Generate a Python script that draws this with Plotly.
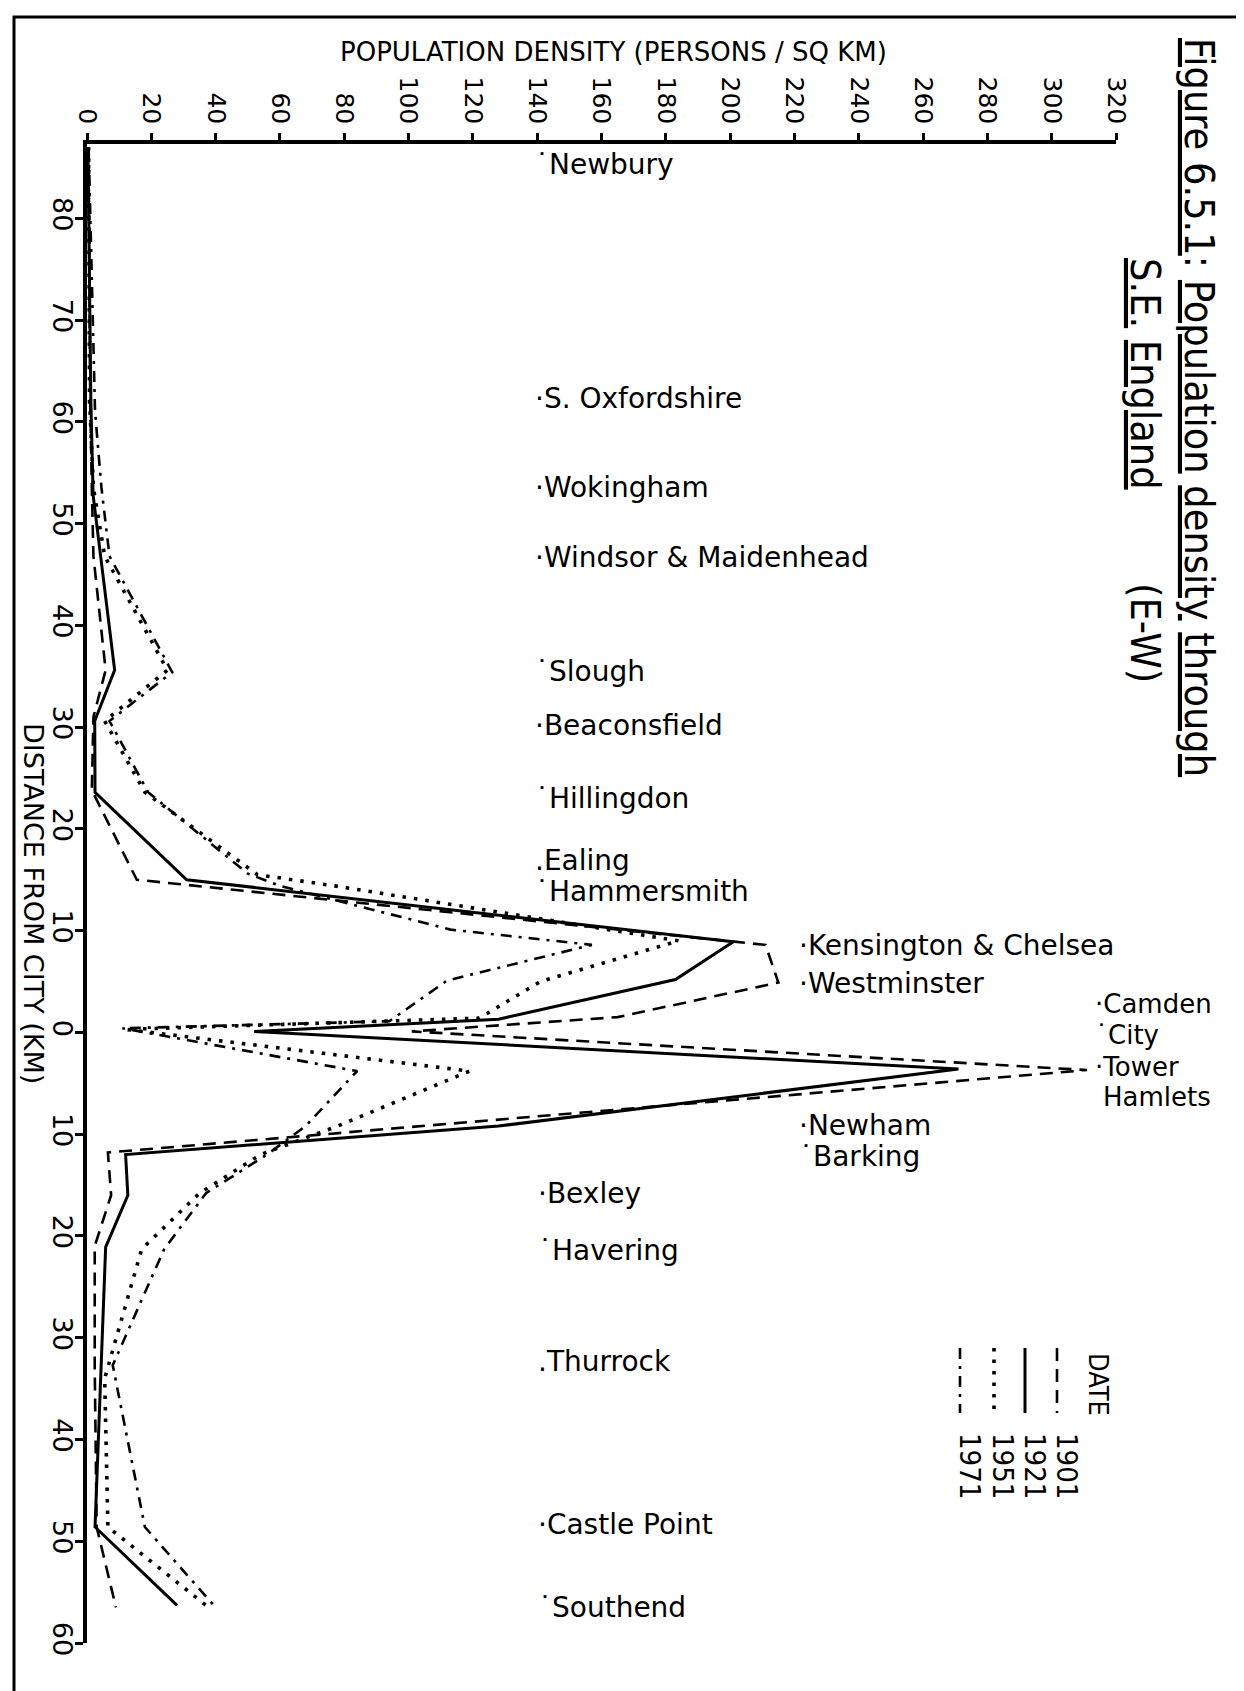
import plotly.graph_objects as go

# ---------------- data ----------------
# distance from City: west positive (top of chart), east negative (bottom)
dist_1901 = [87.0, 62.0, 53.5, 46.8, 35.6, 31.0, 23.8, 15.0, 8.6, 4.9, 1.5, 0.1,
             -3.7, -9.0, -11.8, -16.0, -21.0, -33.0, -48.6, -56.5]
dens_1901 = [0.5, 1.0, 1.5, 2.0, 5.8, 2.0, 1.5, 15.5, 211, 215, 165, 101,
             311, 112, 6.5, 7.5, 2.4, 2.4, 3.0, 9.0]

dist_1921 = [87.0, 62.0, 52.8, 35.6, 30.6, 23.6, 15.0, 8.9, 5.2, 1.3, 0.1,
             -3.6, -9.2, -12.0, -16.0, -21.1, -48.6, -56.3]
dens_1921 = [0.3, 1.2, 1.9, 8.6, 2.4, 2.5, 31, 201, 183, 128, 52,
             271, 128, 12, 12.7, 5.8, 2.5, 28]

dist_1951 = [87.0, 62.0, 53.5, 46.8, 35.6, 30.6, 23.6, 15.5, 14.4, 9.0, 5.0, 1.4, 0.3,
             -3.8, -9.2, -12.0, -15.8, -21.3, -34.0, -48.6, -56.3]
dens_1951 = [0.5, 0.8, 2.0, 5.5, 25, 5.5, 18, 53, 77, 184, 141, 122, 12,
             119, 78, 54, 35, 17, 5.5, 6.5, 37]

dist_1971 = [87.0, 61.0, 53.5, 46.8, 35.4, 30.6, 23.6, 15.6, 14.4, 10.1, 8.6, 5.1, 1.1, 0.4,
             -3.8, -9.2, -12.0, -15.8, -21.3, -32.7, -48.6, -56.5]
dens_1971 = [0.5, 2.5, 4.5, 7.0, 26.5, 7.0, 19, 50, 60, 113, 157, 112, 94, 11,
             84, 68, 56, 37, 24, 8, 18, 40]

place_names = ["Newbury", "S. Oxfordshire", "Wokingham", "Windsor & Maidenhead", "Slough",
               "Beaconsfield", "Hillingdon", "Ealing", "Hammersmith", "Kensington & Chelsea",
               "Westminster", "Camden", "City", "Tower Hamlets", "Newham", "Barking",
               "Bexley", "Havering", "Thurrock", "Castle Point", "Southend"]
place_marks = ["˙", "·", "·", "·", "˙", "·", "˙", ".", "˙", "·",
               "·", "·", "˙", "·", "·", "˙", "·", "˙", ".", "·", "˙"]
label_dist = [85.3, 62.3, 53.5, 46.7, 35.5, 30.2, 23.0, 16.9, 13.8, 8.5,
              4.8, 2.8, -0.3, -3.4, -9.1, -12.2, -15.8, -21.4, -32.3, -48.4, -56.5]
label_dens = [140, 140, 140, 140, 140, 140, 140, 140, 140, 222,
              222, 314, 314, 314, 222, 222, 141, 141, 141, 141, 141]

x_ticks = list(range(0, 321, 20))
y_ticks = [80, 70, 60, 50, 40, 30, 20, 10, 0, -10, -20, -30, -40, -50, -60]
y_ticktext = [str(abs(v)) for v in y_ticks]

years = ["1901", "1921", "1951", "1971"]

# ---------------- layout geometry ----------------
W, H = 1244, 1691
L, R, T, B = 79, 136, 136, 56
PW, PH = W - L - R, H - T - B


def px(xp):
    return (xp - L) / PW


def py(yp):
    return (H - B - yp) / PH


NARROW = "DejaVu Sans Condensed, Liberation Sans Narrow, Arial Narrow, sans-serif"
SANS = "DejaVu Sans, Verdana, sans-serif"

styles = {
    "1901": dict(color="black", width=2.6, dash="13px,8px"),
    "1921": dict(color="black", width=3.0, dash="solid"),
    "1951": dict(color="black", width=3.6, dash="3.5px,8px"),
    "1971": dict(color="black", width=2.6, dash="11px,7px,3px,7px"),
}

series = {
    "1901": (dens_1901, dist_1901),
    "1921": (dens_1921, dist_1921),
    "1951": (dens_1951, dist_1951),
    "1971": (dens_1971, dist_1971),
}

fig = go.Figure()
for yr in years:
    xs, ys = series[yr]
    fig.add_trace(go.Scatter(x=xs, y=ys, mode="lines", name=yr,
                             line=styles[yr], showlegend=False, hoverinfo="skip"))

annotations = []
LABEL_SIZE = 28
for name, mark, d, v in zip(place_names, place_marks, label_dist, label_dens):
    size = 26 if v > 300 else LABEL_SIZE
    if name == "Tower Hamlets":
        first, second = name.split(" ")
        annotations.append(dict(x=v, y=d, xref="x", yref="y", text=mark + first,
                                showarrow=False, xanchor="left", yanchor="middle",
                                xshift=-4, font=dict(family=SANS, size=size, color="black")))
        annotations.append(dict(x=v, y=d - 2.9, xref="x", yref="y", text=second,
                                showarrow=False, xanchor="left", yanchor="middle",
                                xshift=4, font=dict(family=SANS, size=size, color="black")))
        continue
    annotations.append(dict(x=v, y=d, xref="x", yref="y", text=mark + name,
                            showarrow=False, xanchor="left", yanchor="middle",
                            align="left", xshift=-4,
                            font=dict(family=SANS, size=size, color="black")))

# axis titles
annotations.append(dict(x=px(605), y=py(44), xref="paper", yref="paper",
                        text="POPULATION DENSITY (PERSONS / SQ KM)", showarrow=False,
                        xanchor="center", yanchor="middle",
                        font=dict(family=SANS, size=26, color="black")))
annotations.append(dict(x=px(26), y=py(895), xref="paper", yref="paper",
                        text="DISTANCE FROM CITY (KM)", showarrow=False, textangle=90,
                        xanchor="center", yanchor="middle",
                        font=dict(family=SANS, size=27, color="black")))
# title
annotations.append(dict(x=px(1191), y=py(399), xref="paper", yref="paper",
                        text="<u>Figure 6.5.1</u>: <u>Population</u> <u>density</u> <u>through</u>",
                        showarrow=False, textangle=90, xanchor="center", yanchor="middle",
                        font=dict(family=NARROW, size=41, color="black")))
annotations.append(dict(x=px(1137), y=py(366), xref="paper", yref="paper",
                        text="<u>S.E.</u> <u>England</u>", showarrow=False, textangle=90,
                        xanchor="center", yanchor="middle",
                        font=dict(family=NARROW, size=41, color="black")))
annotations.append(dict(x=px(1137), y=py(625), xref="paper", yref="paper",
                        text="(E-W)", showarrow=False, textangle=90,
                        xanchor="center", yanchor="middle",
                        font=dict(family=NARROW, size=41, color="black")))

# legend (drawn rotated like the original)
annotations.append(dict(x=px(1091), y=py(1376), xref="paper", yref="paper",
                        text="DATE", showarrow=False, textangle=90,
                        xanchor="center", yanchor="middle",
                        font=dict(family=NARROW, size=27, color="black")))
leg_line_x = [1049, 1017, 986, 952]
leg_text_x = [1059, 1027, 995, 962]
shapes = []
for yr, lx, tx in zip(years, leg_line_x, leg_text_x):
    st = dict(styles[yr])
    shapes.append(dict(type="line", xref="paper", yref="paper",
                       x0=px(lx), x1=px(lx), y0=py(1340), y1=py(1405), line=st))
    annotations.append(dict(x=px(tx), y=py(1458), xref="paper", yref="paper",
                            text=yr, showarrow=False, textangle=90,
                            xanchor="center", yanchor="middle",
                            font=dict(family=NARROW, size=29, color="black")))

# outer frame
shapes.append(dict(type="rect", xref="paper", yref="paper",
                   x0=px(6), x1=px(1238), y0=py(1685), y1=py(9),
                   line=dict(color="black", width=3), fillcolor="rgba(0,0,0,0)"))

fig.update_layout(
    width=W, height=H,
    margin=dict(l=L, r=R, t=T, b=B, pad=0),
    paper_bgcolor="white", plot_bgcolor="white",
    annotations=annotations, shapes=shapes,
    showlegend=False,
    xaxis=dict(side="top", range=[0, 320], tickmode="array", tickvals=x_ticks,
               tickangle=90, ticks="outside", ticklen=7, tickwidth=3, tickcolor="black",
               showline=True, linewidth=4, linecolor="black", showgrid=False,
               zeroline=False, tickfont=dict(family=SANS, size=25, color="black")),
    yaxis=dict(range=[-60, 87.3], tickmode="array", tickvals=y_ticks, ticktext=y_ticktext,
               tickangle=90, ticks="outside", ticklen=8, tickwidth=3, tickcolor="black",
               ticklabelstandoff=-10,
               showline=True, linewidth=4, linecolor="black", showgrid=False,
               zeroline=False, tickfont=dict(family=SANS, size=27, color="black")),
)

fig.write_html("out.html", config={"displayModeBar": False})
